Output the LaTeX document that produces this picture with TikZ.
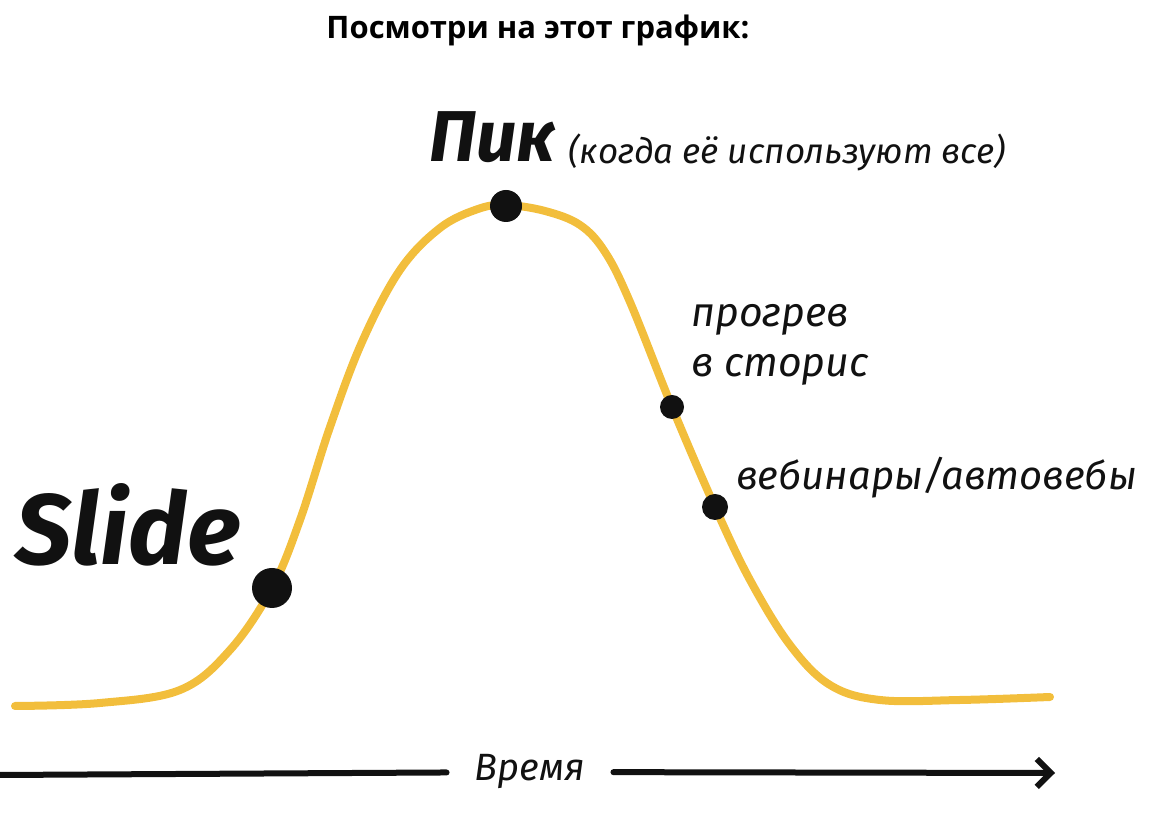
\documentclass[tikz,border=0pt]{standalone}
\usepackage{fontspec}
\setmainfont{Open Sans}
\newfontfamily\handfont{Fira Sans}
\usetikzlibrary{arrows.meta}
\definecolor{curvegold}{HTML}{F2BE3C}
\definecolor{inkblack}{HTML}{111111}
\tikzset{
  hand/.style={font=\handfont\itshape\fontsize{#1}{#1}\selectfont, text=inkblack},
  handbold/.style={font=\handfont\bfseries\itshape\fontsize{#1}{#1}\selectfont, text=inkblack},
  curveline/.style={curvegold, line width=8pt, line cap=round, line join=round},
  dot/.style={circle, fill=inkblack, inner sep=0pt, minimum size=#1},
  timeline/.style={inkblack, line width=6pt, line cap=round}
}
\begin{document}
\begin{tikzpicture}[x=1pt, y=1pt]
    \useasboundingbox (0,0) rectangle (1160,832);

    % Title
    \node[font=\bfseries\fontsize{31}{31}\selectfont] (title) at (538,802) {Посмотри на этот график:};

    % Bell curve
    \draw[curveline] plot[smooth, tension=0.6] coordinates {
        (15,126) (100,129) (180,142) (230,182) (272,244) (300,312)
        (330,405) (362,490) (400,562) (440,604) (478,623) (506,627)
        (545,621) (580,607) (605,580) (630,530) (672,425) (715,325)
        (750,252) (790,187) (830,147) (880,132) (960,132) (1050,135)};

    % Points on the curve
    \node[dot=40pt] (slide) at (272,244) {};
    \node[dot=32pt] (peak) at (506,626) {};
    \node[dot=24pt] (stories) at (672,425) {};
    \node[dot=26pt] (webinar) at (715,325) {};

    % Labels
    \node[handbold=100] (slidelabel) at (128,307) {Slide};
    \node[handbold=72] (peaklabel) at (493,695) {Пик};
    \node[hand=35, anchor=west] (peaknote) at (565,680) {(когда её используют все)};
    \node[hand=41, anchor=west] (storieslabel) at (688,512) {прогрев};
    \node[hand=41, anchor=west] (storieslabel2) at (688,462) {в сторис};
    \node[hand=40, anchor=west] (webinarlabel) at (733,354) {вебинары/автовебы};

    % Time axis
    \coordinate (tstart) at (0,57);
    \coordinate (tend) at (1055,59);
    \node[hand=38, inner xsep=28pt] (time) at (530,60) {Время};
    \draw[timeline] (tstart) -- (time);
    \draw[timeline, -{Straight Barb[length=14pt, width=28pt]}] (time) -- (tend);

\end{tikzpicture}
\end{document}
